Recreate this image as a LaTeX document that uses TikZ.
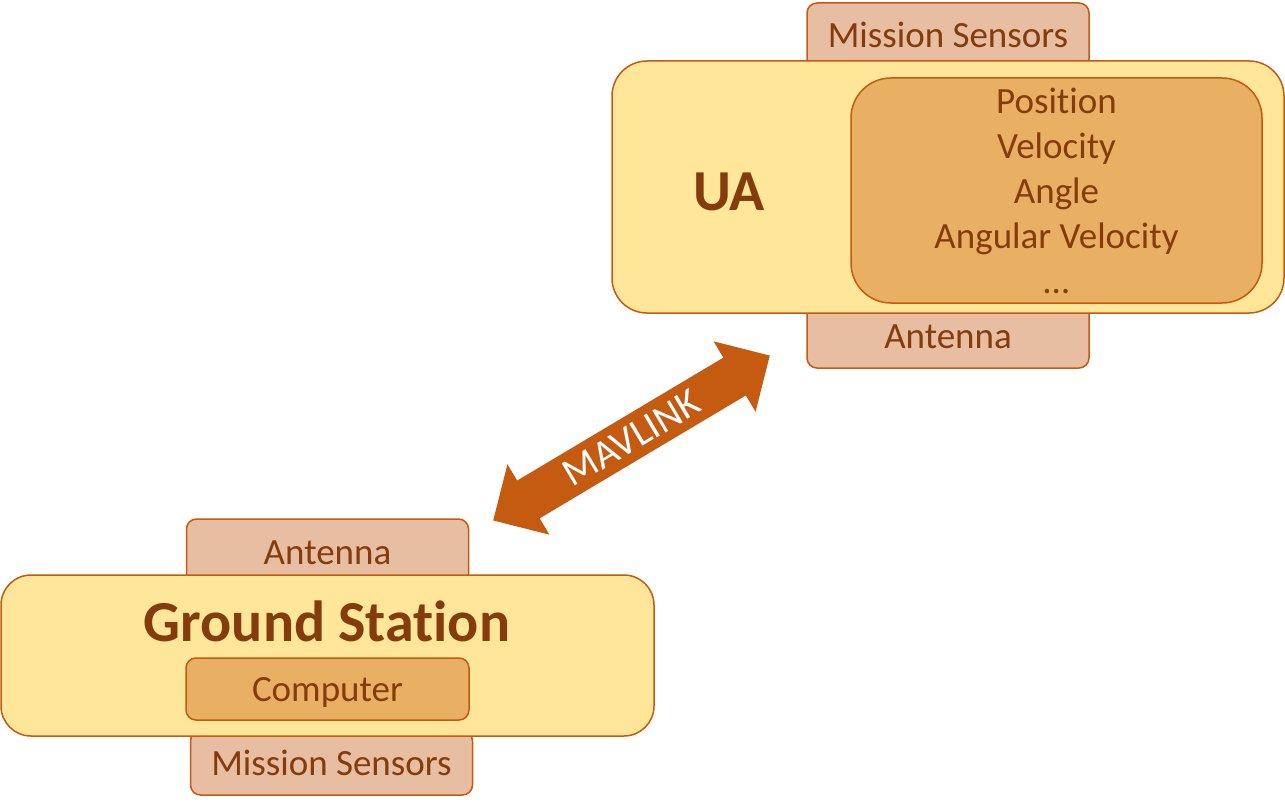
\documentclass[tikz,border=0pt]{standalone}
\usepackage{fontspec}
\setmainfont{Carlito}[Ligatures=NoCommon]
\usetikzlibrary{positioning}
\definecolor{boxLine}{HTML}{C55A11}
\definecolor{sysFill}{HTML}{FFE699}
\definecolor{dataFill}{HTML}{E9AF63}
\definecolor{partFill}{HTML}{E8BEA3}
\definecolor{textBrown}{HTML}{843C0C}
\tikzset{
  part/.style={draw=boxLine, fill=partFill, line width=1.5pt, rounded corners=10pt,
    minimum width=282pt, text=textBrown, font=\fontsize{37}{45}\selectfont,
    text height=24pt, text depth=0pt},
  system/.style={draw=boxLine, fill=sysFill, line width=1.5pt},
  title/.style={text=textBrown, font=\fontsize{58}{60}\selectfont\bfseries}
}
\begin{document}
\begin{tikzpicture}[x=1pt, y=-1pt]
  \useasboundingbox (0,0) rectangle (1285,808);
  % UA side
  \node[part, minimum height=66pt] (uasens) at (948,36) {Mission Sensors};
  \node[part, minimum height=64pt] (uaant) at (948,336) {Antenna};
  \node[system, minimum width=672pt, minimum height=252pt, rounded corners=35pt] (ua) at (948,187) {};
  \node[title] (ualabel) at (729,192) {UA};
  \node[draw=boxLine, fill=dataFill, line width=1.5pt, rounded corners=40pt,
    minimum width=411pt, minimum height=225pt, align=center, text=textBrown,
    font=\fontsize{37}{45}\selectfont] (uadata) at (1056.5,190.5)
    {Position\\Velocity\\Angle\\Angular Velocity\\\dots};
  % ground station side
  \node[part, minimum height=66pt] (gsant) at (327.5,552) {Antenna};
  \node[part, minimum height=64pt] (gssens) at (331.5,763) {Mission Sensors};
  \node[system, minimum width=653pt, minimum height=161pt, rounded corners=30pt] (gs) at (327.5,655.5) {};
  \node[title] (gslabel) at (327,621) {Ground Station};
  \node[part, fill=dataFill, minimum width=283pt, minimum height=62pt] (gscomp) at (327.5,689) {Computer};
  % link
  \begin{scope}[shift={(631.5,438)}, rotate=30.8]
    \fill[boxLine] (-161,0) -- (-120,41) -- (-120,22) -- (120,22) -- (120,41) -- (161,0)
      -- (120,-41) -- (120,-22) -- (-120,-22) -- (-120,-41) -- cycle;
  \end{scope}
  \node[rotate=30.8, text=white, font=\fontsize{40}{44}\selectfont] (mavlink) at (631.5,438) {MAVLINK};
\end{tikzpicture}
\end{document}
